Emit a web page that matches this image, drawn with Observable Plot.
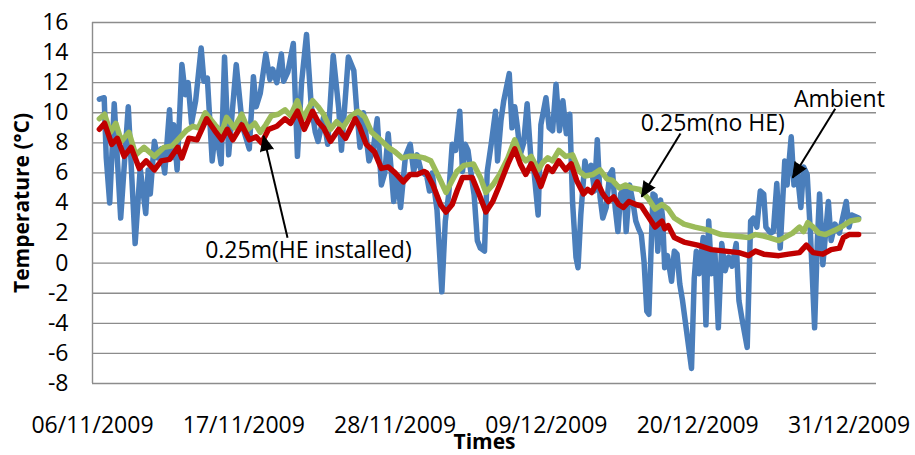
<!DOCTYPE html>
<html><head><meta charset="utf-8">
<script src="https://cdn.jsdelivr.net/npm/d3@7"></script>
<script src="https://cdn.jsdelivr.net/npm/@observablehq/plot@0.6"></script>
<style>
html,body{margin:0;padding:0;background:#fff;}
#chart{width:915px;height:455px;overflow:hidden;}
</style></head><body><div id="chart"></div>
<script>
// ---- data (days since 06/11/2009 00:00, temperature °C) ----
const ambientDay = [0.5,0.85,1.0,1.25,1.58,2.05,2.6,3.1,3.47,3.87,4.05,4.2,4.5,4.75,5.0,5.25,5.6,5.75,5.9,6.15,6.5,6.75,6.95,7.2,7.5,7.9,8.1,8.35,8.7,8.95,9.35,9.6,9.9,10.45,10.9,11.4,11.7,11.9,12.2,12.6,12.9,13.1,13.4,13.73,13.9,14.2,14.6,14.9,15.2,15.56,15.9,16.2,16.4,16.8,17.1,17.5,17.9,18.1,18.6,19.0,19.2,19.45,19.7,20.1,20.4,20.7,21.0,21.25,21.5,21.9,22.15,22.4,22.75,23.1,23.35,23.6,23.9,24.3,24.5,24.7,25.05,25.4,25.65,25.9,26.15,26.4,26.7,26.9,27.1,27.3,27.5,27.75,27.98,28.2,28.5,28.7,29.0,29.3,29.45,29.7,29.9,30.3,30.5,30.7,30.9,31.1,31.35,31.6,31.9,32.1,32.4,32.6,32.97,33.2,33.45,33.7,33.95,34.2,34.45,34.7,34.9,35.15,35.3,35.5,35.8,36.0,36.25,36.5,36.7,36.9,37.1,37.35,37.6,37.8,38.0,38.2,38.4,38.65,38.8,39.05,39.3,39.5,39.7,39.9,40.1,40.3,40.45,40.75,40.9,41.1,41.3,41.45,41.6,41.8,42.1,42.3,42.5,42.7,42.9,43.55,43.75,43.9,44.1,44.4,44.6,44.8,45.0,45.25,45.5,45.75,46.0,46.25,46.5,46.8,47.0,47.2,47.6,47.85,48.05,48.3,48.55,48.8,48.96,49.3,49.5,49.75,50.0,50.33,50.5,50.8,51.0,51.2,51.5,51.7,51.96,52.2,52.5,52.7,52.86,53.1,53.5,53.7,53.98,54.3,54.8,55.0,55.2,55.45,55.7];
const ambientTemp = [10.9,11.0,7.0,4.0,10.6,3.0,10.4,1.3,6.3,3.3,6.2,4.6,8.1,7.0,7.6,6.0,10.2,7.0,9.2,6.2,13.2,11.2,12.0,9.3,10.8,14.3,12.1,12.3,6.8,9.0,6.6,13.7,7.2,13.2,9.1,7.6,12.4,10.4,11.3,13.9,12.2,12.9,12.0,13.9,12.1,12.7,14.6,7.1,12.0,15.2,10.5,8.7,8.1,9.7,7.9,13.8,10.3,7.5,13.7,12.8,10.3,7.7,10.0,6.8,7.5,9.6,5.2,6.0,8.6,4.1,5.8,3.7,7.1,7.9,6.1,7.2,6.1,5.8,4.8,6.0,3.5,-1.9,2.8,4.6,7.9,7.5,10.1,6.1,7.9,7.5,6.1,4.5,1.5,1.0,0.8,6.1,8.0,10.1,6.8,9.5,10.8,12.6,9.0,10.4,9.0,7.2,8.0,10.6,6.6,6.1,3.2,9.2,11.0,9.0,8.8,11.9,8.8,10.8,8.6,9.9,4.1,0.4,-0.3,3.2,6.8,5.9,6.5,4.8,8.2,4.4,3.0,3.7,5.9,6.2,3.7,2.1,4.6,5.0,2.1,5.2,4.0,2.8,2.3,1.9,0.1,-3.2,-3.4,4.6,4.5,0.8,4.2,3.0,-0.3,0.5,-1.2,0.8,0.6,-1.4,-2.5,-7.0,-1.0,0.8,-0.7,1.7,-4.1,2.8,-0.7,0.8,-4.3,1.3,-0.5,0.4,-0.2,1.3,-2.5,-3.6,-5.6,2.8,3.0,2.4,4.8,4.6,2.4,2.0,2.1,5.3,1.0,6.8,5.2,8.4,5.2,6.4,3.7,6.4,5.9,1.9,-4.3,1.5,4.6,-0.1,4.1,1.5,2.6,2.0,4.1,2.4,3.2,3.1,3.0];

const noHEDay = [0.5,0.88,1.3,1.7,2.1,2.65,3.14,3.75,4.5,5.2,5.8,6.4,6.8,7.3,7.7,8.2,8.9,9.4,9.75,10.3,10.85,11.3,11.8,12.2,12.6,13.0,13.5,14.0,14.4,14.9,15.3,16.0,16.4,16.8,17.3,17.75,18.2,18.7,19.3,19.8,20.3,20.8,21.5,22.0,22.5,23.0,23.6,24.1,24.6,25.3,25.7,26.15,26.5,27.0,27.7,28.2,28.6,29.1,29.6,30.2,30.7,31.1,31.5,31.9,32.4,32.75,33.1,33.45,33.9,34.4,34.9,35.4,35.8,36.4,36.9,37.4,37.8,38.3,38.75,39.2,39.8,40.4,40.9,41.4,41.85,42.3,43.0,43.8,44.8,45.7,46.7,47.7,48.2,48.8,49.2,49.9,50.5,50.9,51.4,51.7,52.0,52.4,52.8,53.3,54.0,54.6,55.1,55.7];
const noHETemp = [9.6,9.9,8.7,9.3,8.1,8.7,7.2,7.7,7.1,7.7,7.8,8.4,8.8,9.1,9.0,10.0,9.2,8.7,9.7,9.0,9.9,8.9,9.3,8.7,9.2,9.8,9.9,10.2,9.8,10.8,9.6,10.8,10.4,9.9,8.9,9.4,9.0,9.7,10.1,9.7,8.7,8.3,7.7,7.4,7.0,7.1,7.1,7.0,6.8,5.5,4.7,5.5,6.1,6.5,6.6,5.7,4.7,5.2,5.9,7.0,8.2,7.2,6.8,7.1,6.2,6.7,7.0,6.8,7.5,7.1,7.2,6.1,5.8,5.9,6.2,5.6,5.5,5.0,5.2,5.0,4.9,4.3,3.6,3.9,3.6,3.0,2.6,2.4,2.2,1.9,1.8,1.7,1.9,1.8,1.7,1.5,1.8,2.0,2.4,2.1,2.7,2.4,2.0,1.9,2.2,2.5,2.8,2.9];

const heDay = [0.5,0.88,1.4,1.8,2.3,2.8,3.4,3.9,4.5,5.0,5.6,6.2,6.5,7.0,7.6,8.3,8.9,9.4,9.8,10.2,10.85,11.4,11.9,12.3,12.8,13.4,14.0,14.4,14.9,15.4,16.0,16.4,16.8,17.3,17.9,18.4,19.1,19.4,19.9,20.5,21.0,21.5,22.0,22.6,23.1,23.6,24.1,24.3,24.75,25.3,25.7,26.15,26.5,26.9,27.6,28.1,28.6,29.1,29.6,30.2,30.7,31.1,31.5,31.9,32.4,32.6,33.1,33.45,33.9,34.4,34.8,35.2,35.7,36.0,36.3,36.7,37.1,37.5,37.9,38.25,38.6,39.0,39.5,39.9,40.4,40.9,41.4,41.6,41.85,42.3,43.0,44.0,45.0,46.0,47.0,47.7,48.2,48.8,49.9,50.6,51.4,51.9,52.4,53.1,53.7,54.3,54.6,55.0,55.7];
const heTemp = [8.9,9.3,7.9,8.3,7.1,7.7,6.3,6.8,6.2,6.8,6.9,7.7,7.0,8.3,8.2,9.6,8.8,8.2,8.9,8.2,9.2,8.2,8.4,8.0,8.9,9.1,9.6,9.3,10.1,8.9,10.1,9.4,9.0,8.1,8.9,8.3,9.6,9.1,7.9,7.4,6.3,6.4,6.0,5.4,5.9,5.9,6.1,6.0,5.2,3.9,3.4,3.9,4.8,5.7,5.7,4.6,3.4,4.1,5.2,6.6,7.6,6.6,5.9,6.6,5.6,5.1,6.4,6.1,6.8,6.2,6.6,5.5,4.6,4.9,4.7,5.4,4.6,4.1,4.4,3.9,3.7,4.1,3.9,3.8,3.1,2.4,2.8,2.3,2.5,1.7,1.4,1.2,0.9,0.8,0.7,0.5,0.8,0.6,0.5,0.6,0.7,1.2,0.7,0.6,0.9,1.0,1.7,1.9,1.9];

const tickLabels = ["06/11/2009","17/11/2009","28/11/2009","09/12/2009","20/12/2009","31/12/2009"];
const yTicks = [-8,-6,-4,-2,0,2,4,6,8,10,12,14,16];

// annotations: label centre (day, temp); arrow tail -> tip (day, temp)
const noteText = ["Ambient","0.25m(no HE)","0.25m(HE installed)"];
const noteDay  = [54.3, 45.1, 15.7];
const noteTemp = [10.9, 9.3, 0.86];
const arrowTailDay  = [54.0, 42.75, 14.18];
const arrowTailTemp = [10.27, 8.62, 1.69];
const arrowTipDay   = [50.9, 39.92, 12.43];
const arrowTipTemp  = [5.68, 4.41, 8.47];

// axis titles and where their centres sit (day, temp)
const yTitle = "Temperature (°C)";
const xTitle = "Times";
const yTitleDay = -5.1, yTitleTemp = 4;

// ---- build ----
const t0 = Date.UTC(2009, 10, 6);
const toDate = d => new Date(t0 + d * 864e5);
const parseLabel = s => { const [dd, mm, yy] = s.split("/").map(Number); return new Date(Date.UTC(yy, mm - 1, dd)); };
const xDomain = [new Date(t0), new Date(Date.UTC(2010, 0, 2))];
const W = 915, H = 455, mL = 92, mR = 39, mT = 22, mB = 72;
const kx = (W - mL - mR) / ((xDomain[1] - xDomain[0]) / 864e5);
const ky = (H - mT - mB) / (16 - -8);

const series = (days, temps) => days.map((d, i) => ({date: toDate(d), temp: temps[i]}));
const ambient = series(ambientDay, ambientTemp);
const noHE = series(noHEDay, noHETemp);
const he = series(heDay, heTemp);
const ticks = tickLabels.map(s => ({date: parseLabel(s), label: s}));
const notes = noteText.map((t, i) => ({text: t, date: toDate(noteDay[i]), temp: noteTemp[i]}));
const arrows = noteText.map((t, i) => {
  const dx = (arrowTipDay[i] - arrowTailDay[i]) * kx;
  const dy = -(arrowTipTemp[i] - arrowTailTemp[i]) * ky;
  return {x1: toDate(arrowTailDay[i]), y1: arrowTailTemp[i], x2: toDate(arrowTipDay[i]), y2: arrowTipTemp[i],
          rot: Math.atan2(dx, -dy) * 180 / Math.PI};
});

const grid = "#8c8c8c";
const font = "'Open Sans', sans-serif";
const lw = 5.5;

const chart = Plot.plot({
  width: W, height: H,
  marginLeft: mL, marginRight: mR, marginTop: mT, marginBottom: mB,
  style: {fontFamily: font, background: "#fff", overflow: "visible"},
  x: {type: "utc", domain: xDomain, axis: null},
  y: {domain: [-8, 16], axis: null},
  marks: [
    Plot.ruleY(yTicks, {stroke: grid, strokeWidth: 1.4}),
    Plot.ruleX([xDomain[0]], {stroke: grid, strokeWidth: 1.4}),
    Plot.line(ambient, {x: "date", y: "temp", stroke: "#4a7ebb", strokeWidth: lw, strokeLinejoin: "round", strokeLinecap: "round"}),
    Plot.line(noHE, {x: "date", y: "temp", stroke: "#9bbb59", strokeWidth: lw, strokeLinejoin: "round", strokeLinecap: "round"}),
    Plot.line(he, {x: "date", y: "temp", stroke: "#c00000", strokeWidth: lw, strokeLinejoin: "round", strokeLinecap: "round"}),
    // y tick labels
    Plot.text(yTicks, {y: d => d, text: d => String(d), frameAnchor: "left", dx: -24, textAnchor: "end", fontSize: 23, fill: "#000"}),
    // x tick labels
    Plot.text(ticks, {x: "date", text: "label", frameAnchor: "bottom", dy: 42, lineAnchor: "middle", fontSize: 23, fill: "#000"}),
    // axis titles
    Plot.text([yTitle], {x: () => toDate(yTitleDay), y: () => yTitleTemp, rotate: -90, textAnchor: "middle", lineAnchor: "middle", fontSize: 21, fontWeight: "bold", fill: "#000"}),
    Plot.text([xTitle], {frameAnchor: "bottom", dy: 59, lineAnchor: "middle", fontSize: 21, fontWeight: "bold", fill: "#000"}),
    // annotations
    Plot.link(arrows, {x1: "x1", y1: "y1", x2: "x2", y2: "y2", stroke: "#000", strokeWidth: 2}),
    Plot.vector(arrows, {x: "x2", y: "y2", rotate: "rot", length: 15, r: 6.5, shape: "spike", anchor: "end", fill: "#000", stroke: "#000", strokeWidth: 1}),
    Plot.text(notes, {x: "date", y: "temp", text: "text", fontSize: 23, fill: "#000", lineAnchor: "middle"})
  ]
});
document.getElementById("chart").appendChild(chart);
</script>
</body></html>
